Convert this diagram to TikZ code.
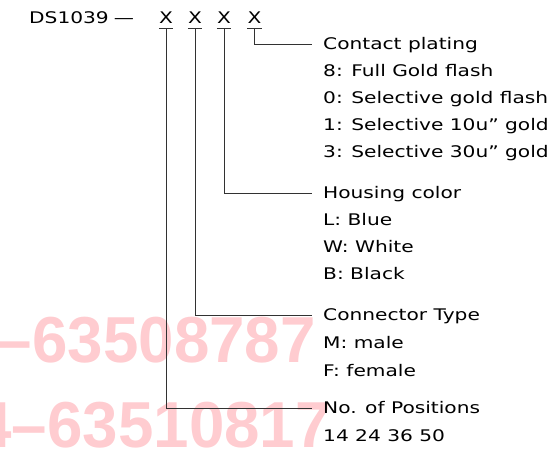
\documentclass[tikz,border=0pt]{standalone}
\usepackage{fontspec}
\setmainfont{DejaVu Sans}[FakeStretch=1.26]
\newfontfamily\wmfont{Liberation Sans}[FakeStretch=0.98]
\usetikzlibrary{positioning}
\definecolor{wmpink}{RGB}{255,204,208}
\definecolor{leadgray}{RGB}{50,50,50}

\tikzset{
	cadtext/.style={font=\fontsize{16}{16}\selectfont, inner sep=0pt},
	xbox/.style={cadtext, anchor=base, text depth=5pt},
	head/.style={cadtext, anchor=west, inner xsep=11pt, text height=11.7pt, text depth=0pt},
	item/.style={cadtext, anchor=base west, inner xsep=11pt},
	leader/.style={draw=leadgray, line width=0.8pt},
	stamp/.style={font=\wmfont\bfseries\fontsize{65}{65}\selectfont, text=wmpink, inner sep=0pt, anchor=base east}
}

\begin{document}
\begin{tikzpicture}[x=1pt, y=-1pt]
	\useasboundingbox (0, 0) rectangle (559, 450);
	\clip (0, 0) rectangle (559, 450);

	% watermark
	\node[stamp] (stampa) at (316, 362) {–63508787};
	\node[stamp] (stampb) at (331, 447) {4–63510817};

	% part number
	\node[cadtext, anchor=base west] (partno) at (29, 23) {DS1039\hspace{5pt}—};
	\foreach \i/\x in {1/166, 2/195, 3/224, 4/254.5}
	\node[xbox] (x\i) at (\x, 23) {X};
	\foreach \i in {1,...,4}
	\draw[leader] (x\i.south west) -- (x\i.south east);

	% option headings
	\node[head] (plating) at (312, 44) {Contact plating};
	\node[head] (color) at (312, 193) {Housing color};
	\node[head] (type) at (312, 315) {Connector Type};
	\node[head] (positions) at (312, 408) {No. of Positions};

	% option values
	\foreach \t [count=\k] in {8: Full Gold flash, 0: Selective gold flash, 1: Selective 10u” gold, 3: Selective 30u” gold}
	\node[item] (plating\k) at ([yshift=-27*\k pt]plating.base west) {\t};
	\foreach \t [count=\k] in {L: Blue, W: White, B: Black}
	\node[item] (color\k) at ([yshift=-27*\k pt]color.base west) {\t};
	\foreach \t [count=\k] in {M: male, F: female}
	\node[item] (type\k) at ([yshift=-28*\k pt]type.base west) {\t};
	\node[item] (positions1) at ([yshift=-28pt]positions.base west) {14 24 36 50};

	% leaders
	\draw[leader] (x4.south) |- (plating.west);
	\draw[leader] (x3.south) |- (color.west);
	\draw[leader] (x2.south) |- (type.west);
	\draw[leader] (x1.south) |- (positions.west);
\end{tikzpicture}
\end{document}
